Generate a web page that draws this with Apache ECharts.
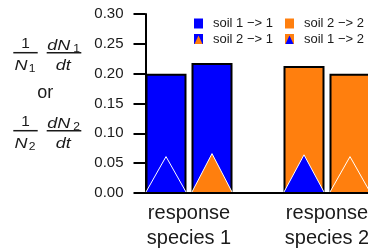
<!DOCTYPE html>
<html>
<head>
<meta charset="utf-8">
<script src="https://cdn.jsdelivr.net/npm/echarts@6/dist/echarts.min.js"></script>
<style>
  html, body { margin: 0; padding: 0; background: #fff; }
  #chart { width: 368px; height: 251px; }
</style>
</head>
<body>
<div id="chart"></div>
<script>
// slots on the x axis: two bars per response species, an empty slot between
var slots = ['soil 1 −> 1', 'soil 2 −> 1', '', 'soil 2 −> 2', 'soil 1 −> 2']
var barValues = [0.200, 0.218, null, 0.213, 0.200]
var triangleValues = [0.061, 0.066, null, 0.064, 0.061]
var responseLabels = ['response\nspecies 1', 'response\nspecies 2']
var yMin = 0
var yMax = 0.30
var yStep = 0.05

var BLUE = '#0000ff'
var ORANGE = '#ff7f0e'
var INK = '#1a1a1a'
var FONT = 'Liberation Sans, Arial, sans-serif'

// which colour fills the bar and which the triangle, per slot
var barColor = [BLUE, BLUE, null, ORANGE, ORANGE]
var triColor = [BLUE, ORANGE, null, BLUE, ORANGE]

function iconSvg (bg, fg) {
  var svg = '<svg xmlns="http://www.w3.org/2000/svg" width="9" height="10">' +
    '<rect width="9" height="10" fill="' + bg + '"/>' +
    '<polygon points="4.5,1.5 8.5,10 0.5,10" fill="' + fg + '"/></svg>'
  return 'image://data:image/svg+xml;charset=utf-8,' + encodeURIComponent(svg)
}

// axis for the two group labels: 11 points, boundaries and centres of the 5 slots
var groupAxisData = []
for (var i = 0; i <= slots.length * 2; i++) groupAxisData.push('')
groupAxisData[2] = responseLabels[0]
groupAxisData[8] = responseLabels[1]

var series = []
slots.forEach(function (name, idx) {
  if (!name) return
  var data = slots.map(function (s, j) { return j === idx ? barValues[j] : '-' })
  series.push({
    name: name,
    type: 'bar',
    xAxisIndex: 0,
    barWidth: 41,
    barGap: '-100%',
    data: data,
    itemStyle: { color: barColor[idx], borderColor: '#000', borderWidth: 2 },
    emphasis: { disabled: true },
    z: 2
  })
})

var triData = []
triangleValues.forEach(function (v, j) {
  if (v !== null) triData.push({ value: [j, v], itemStyle: { color: triColor[j] } })
})

series.push({
  name: 'triangles',
  type: 'custom',
  xAxisIndex: 0,
  data: triData,
  z: 3,
  renderItem: function (params, api) {
    var base = api.coord([api.value(0), 0])
    var top = api.coord([api.value(0), api.value(1)])
    var half = api.size([1, 0])[0] * 0.435
    var pts = [[base[0] - half, base[1] - 1], [top[0], top[1]], [base[0] + half, base[1] - 1]]
    return {
      type: 'group',
      children: [
        { type: 'polygon', shape: { points: pts }, style: { fill: api.visual('color') } },
        { type: 'polyline', shape: { points: pts }, style: { fill: null, stroke: '#fff', lineWidth: 1 } }
      ]
    }
  }
})

var chart = echarts.init(document.getElementById('chart'), null, { renderer: 'canvas' })

function t (x, y, text, size, italic, sx) {
  return {
    type: 'text', x: x, y: y, scaleX: sx || 1,
    style: {
      text: text, fill: INK, fontSize: size, fontFamily: FONT,
      fontStyle: italic ? 'italic' : 'normal', align: 'center', verticalAlign: 'middle'
    }
  }
}
function ln (x1, x2, y) {
  return { type: 'line', shape: { x1: x1, y1: y, x2: x2, y2: y }, style: { stroke: INK, lineWidth: 1.5 } }
}
function fractionGroup (dy, sub) {
  return {
    type: 'group', x: 0, y: dy,
    children: [
      t(25.5, 44, '1', 14, false, 1.1),
      ln(13.3, 37.7, 52.7),
      t(21, 65.5, 'N', 15, true, 1.2),
      t(32.2, 69, sub, 11, false, 1.1),
      t(58.8, 45.5, 'dN', 15, true, 1.2),
      t(76.5, 48.5, sub, 11, false, 1.1),
      ln(46.7, 81.3, 52.7),
      t(63.3, 65.7, 'dt', 15, true, 1.2)
    ]
  }
}

function legendRow (top, items) {
  return {
    left: 194,
    top: top,
    orient: 'horizontal',
    itemWidth: 9,
    itemHeight: 10,
    itemGap: 12,
    padding: 0,
    selectedMode: false,
    itemStyle: { borderWidth: 0 },
    textStyle: { fontSize: 13, color: INK, fontFamily: FONT, padding: [0, 0, 0, 5] },
    data: items
  }
}

chart.setOption({
  animation: false,
  textStyle: { fontFamily: FONT },
  grid: { left: 143, width: 230, top: 14, bottom: 58, outerBoundsMode: 'none' },
  legend: [
    legendRow(17, [{ name: slots[0], icon: 'rect' }, { name: slots[3], icon: 'rect' }]),
    legendRow(32.5, [{ name: slots[1], icon: iconSvg(BLUE, ORANGE) }, { name: slots[4], icon: iconSvg(ORANGE, BLUE) }])
  ],
  xAxis: [
    {
      type: 'category',
      data: slots,
      axisLine: { show: true, lineStyle: { color: '#000', width: 2 } },
      axisTick: { show: false },
      axisLabel: { show: false }
    },
    {
      type: 'category',
      position: 'bottom',
      boundaryGap: false,
      data: groupAxisData,
      axisLine: { show: false },
      axisTick: { show: false },
      axisLabel: {
        interval: 0, fontSize: 20, lineHeight: 25, color: INK, margin: 8, fontFamily: FONT
      }
    }
  ],
  yAxis: {
    type: 'value',
    min: yMin,
    max: yMax,
    interval: yStep,
    offset: -2.5,
    splitLine: { show: false },
    axisLine: { show: true, lineStyle: { color: '#000', width: 2 } },
    axisTick: { show: true, length: 12, lineStyle: { color: '#000', width: 2 } },
    axisLabel: {
      fontSize: 15, color: INK, margin: 22, fontFamily: FONT,
      formatter: function (v) { return v.toFixed(2) }
    }
  },
  graphic: [
    fractionGroup(0, '1'),
    t(45.3, 93.5, 'or', 18),
    fractionGroup(78, '2')
  ],
  series: series
})
</script>
</body>
</html>
